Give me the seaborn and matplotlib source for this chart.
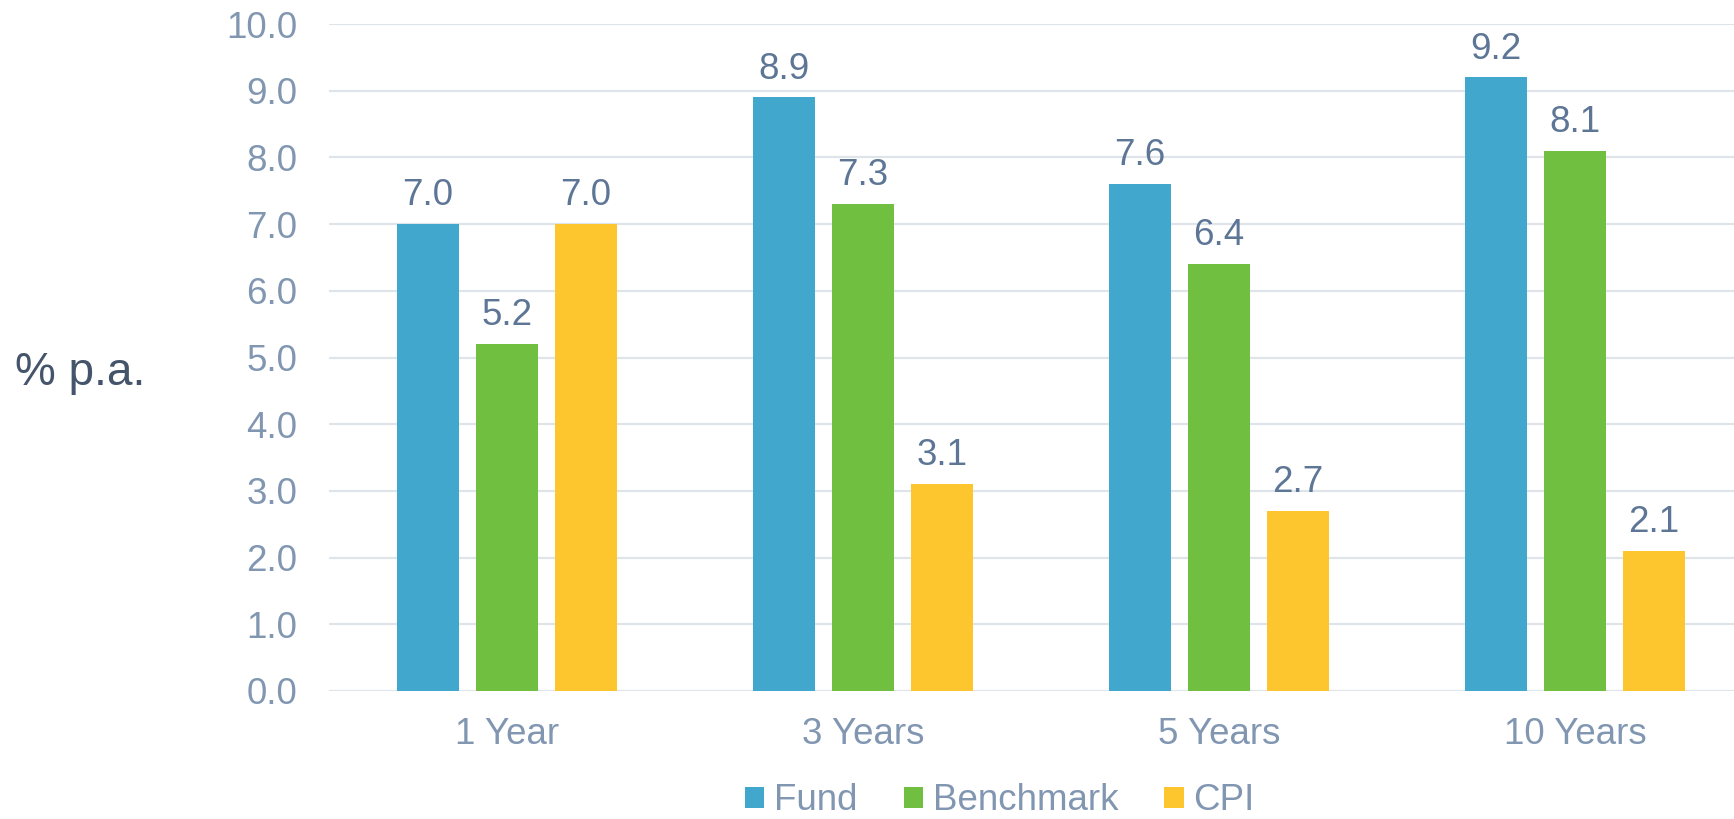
import matplotlib
matplotlib.use("Agg")
import matplotlib.pyplot as plt
import seaborn as sns
import pandas as pd

periods = ["1 Year", "3 Years", "5 Years", "10 Years"]
series = ["Fund", "Benchmark", "CPI"]
fund = [7.0, 8.9, 7.6, 9.2]
benchmark = [5.2, 7.3, 6.4, 8.1]
cpi = [7.0, 3.1, 2.7, 2.1]
colors = ["#41A7CC", "#70BF41", "#FDC62F"]
y_ticks = [0, 1, 2, 3, 4, 5, 6, 7, 8, 9, 10]
y_label = "% p.a."

rows = []
for name, vals in zip(series, [fund, benchmark, cpi]):
    for p, v in zip(periods, vals):
        rows.append({"Period": p, "Series": name, "Value": v})
df = pd.DataFrame(rows)

sns.set_theme(style="white")
plt.rcParams["font.family"] = ["Liberation Sans", "DejaVu Sans"]

W, H, DPI = 1734, 819, 100
fig = plt.figure(figsize=(W / DPI, H / DPI), dpi=DPI)
left_px, right_px, top_px, bottom_px = 329, 1734, 24, 691
ax = fig.add_axes([left_px / W, (H - bottom_px) / H, (right_px - left_px) / W, (bottom_px - top_px) / H])

sns.barplot(data=df, x="Period", y="Value", hue="Series", hue_order=series,
            order=periods, palette=colors, saturation=1, width=0.666, gap=0.215,
            errorbar=None, ax=ax, linewidth=0)

ax.set_xlim(-0.5, -0.5 + (right_px - left_px) / 356.0)
ax.set_ylim(0, 10)
ax.set_yticks(y_ticks)
ax.set_yticklabels([f"{t:.1f}" for t in y_ticks])
ax.set_axisbelow(True)
ax.yaxis.grid(True, color="#DFE4EB", linewidth=1.6)
ax.xaxis.grid(False)
for s in ax.spines.values():
    s.set_visible(False)
ax.set_xlabel("")
ax.set_ylabel("")

tick_color = "#8196B1"
ax.tick_params(axis="y", length=0, pad=23, labelsize=26.5, labelcolor=tick_color)
ax.tick_params(axis="x", length=0, pad=19, labelsize=26.5, labelcolor=tick_color)

label_color = "#5E7696"
for cont in ax.containers:
    for bar in cont:
        h = bar.get_height()
        ax.annotate(f"{h:.1f}", (bar.get_x() + bar.get_width() / 2, h),
                    xytext=(0, 13.5), textcoords="offset points",
                    ha="center", va="baseline", fontsize=26.5, color=label_color)

handles, labels = ax.get_legend_handles_labels()
if ax.get_legend() is not None:
    ax.get_legend().remove()
leg = fig.legend(handles, labels, loc="center", bbox_to_anchor=(1000 / W, (H - 801) / H),
                 ncol=3, frameon=False, fontsize=26.5, handlelength=0.52, handleheight=0.52,
                 handletextpad=0.27, columnspacing=1.25, borderpad=0, labelcolor=tick_color)

fig.text(15 / W, (H - 385) / H, y_label, ha="left", va="baseline", fontsize=33, color="#44546A")

fig.savefig("out.png", dpi=DPI)
